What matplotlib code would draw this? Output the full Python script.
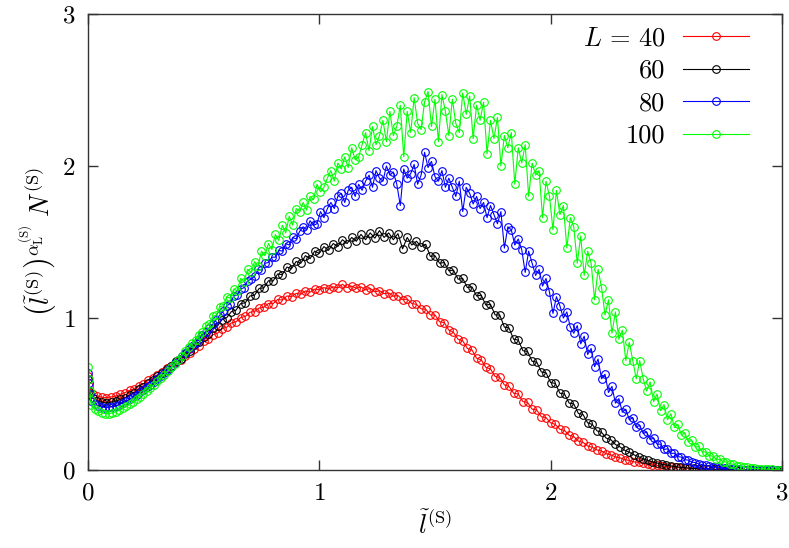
import numpy as np
import matplotlib
matplotlib.use("Agg")
import matplotlib.pyplot as plt

plt.rcParams['font.family'] = 'serif'
plt.rcParams['font.serif'] = ['cmr10']
plt.rcParams['mathtext.fontset'] = 'cm'
plt.rcParams['axes.formatter.use_mathtext'] = True

labels = ["$L\\,=\\,40$", "60", "80", "100"]
colors = ["#ff0000", "#000000", "#0000ff", "#00ff00"]

# --- L = 40 ---
red_x0 = [0.0, 0.005]
red_y0 = [0.62, 0.55]
red_step = 0.02
red_y = [0.50, 0.488, 0.478, 0.476, 0.481, 0.486, 0.498, 0.509, 0.524, 0.536,
         0.555, 0.568, 0.59, 0.603, 0.627, 0.643, 0.668, 0.683, 0.708, 0.725,
         0.753, 0.768, 0.798, 0.815, 0.848, 0.86, 0.89, 0.90, 0.93, 0.94,
         0.968, 0.975, 1.003, 1.01, 1.038, 1.042, 1.066, 1.07, 1.095, 1.094,
         1.122, 1.118, 1.145, 1.14, 1.162, 1.156, 1.178, 1.17, 1.19, 1.185,
         1.20, 1.19, 1.205, 1.198, 1.222, 1.20, 1.21, 1.195, 1.205, 1.185,
         1.195, 1.172, 1.18, 1.16, 1.165, 1.143, 1.148, 1.12, 1.125, 1.095,
         1.09, 1.06, 1.058, 1.02, 1.02, 0.975, 0.97, 0.92, 0.905, 0.86,
         0.85, 0.80, 0.79, 0.735, 0.725, 0.675, 0.665, 0.615, 0.61, 0.56,
         0.55, 0.505, 0.50, 0.45, 0.445, 0.40, 0.395, 0.35, 0.345, 0.31,
         0.30, 0.268, 0.26, 0.228, 0.22, 0.19, 0.182, 0.158, 0.15, 0.132,
         0.125, 0.107, 0.10, 0.086, 0.08, 0.068, 0.063, 0.054, 0.05, 0.043,
         0.039, 0.034, 0.03, 0.026, 0.023, 0.02, 0.017, 0.015, 0.013, 0.011,
         0.0095, 0.008, 0.007, 0.006, 0.005, 0.004, 0.0035, 0.003, 0.0025, 0.002,
         0.002, 0.0015, 0.0015, 0.001, 0.001, 0.001, 0.0005, 0.0005, 0.0, 0.0]

# --- L = 60 ---
black_x0 = [0.0, 0.005]
black_y0 = [0.60, 0.52]
black_step = 0.02
black_y = [0.475, 0.455, 0.446, 0.44, 0.446, 0.451, 0.465, 0.474, 0.492, 0.508,
           0.532, 0.548, 0.573, 0.59, 0.618, 0.635, 0.664, 0.682, 0.714, 0.732,
           0.766, 0.786, 0.822, 0.84, 0.877, 0.895, 0.935, 0.948, 0.99, 1.003,
           1.042, 1.052, 1.095, 1.10, 1.145, 1.15, 1.195, 1.198, 1.245, 1.243,
           1.29, 1.285, 1.335, 1.325, 1.372, 1.36, 1.41, 1.39, 1.44, 1.425,
           1.47, 1.445, 1.49, 1.47, 1.515, 1.49, 1.53, 1.505, 1.55, 1.515,
           1.56, 1.525, 1.575, 1.53, 1.56, 1.515, 1.555, 1.455, 1.53, 1.48,
           1.505, 1.47, 1.485, 1.405, 1.41, 1.36, 1.365, 1.31, 1.315, 1.255,
           1.26, 1.20, 1.205, 1.145, 1.15, 1.085, 1.09, 1.02, 1.02, 0.94,
           0.935, 0.86, 0.855, 0.785, 0.78, 0.715, 0.71, 0.645, 0.64, 0.575,
           0.57, 0.505, 0.50, 0.44, 0.435, 0.372, 0.365, 0.31, 0.30, 0.258,
           0.248, 0.21, 0.20, 0.168, 0.152, 0.13, 0.117, 0.10, 0.088, 0.074,
           0.064, 0.053, 0.046, 0.038, 0.032, 0.027, 0.022, 0.018, 0.015, 0.012,
           0.01, 0.008, 0.0065, 0.005, 0.004, 0.0035, 0.003, 0.0025, 0.002, 0.0015,
           0.0015, 0.001, 0.001, 0.001, 0.0005, 0.0005, 0.0, 0.0, 0.0, 0.0]

# --- L = 80 ---
blue_x0 = [0.0, 0.004, 0.008]
blue_y0 = [0.64, 0.57, 0.50]
blue_step = 0.015
blue_y = [0.455, 0.435, 0.422, 0.415, 0.411, 0.412, 0.416, 0.42, 0.43, 0.442,
          0.453, 0.465, 0.48, 0.495, 0.51, 0.525, 0.543, 0.562, 0.58, 0.60,
          0.618, 0.64, 0.66, 0.68, 0.703, 0.725, 0.748, 0.772, 0.793, 0.815,
          0.838, 0.86, 0.888, 0.91, 0.935, 0.96, 0.99, 1.02, 1.045, 1.08,
          1.095, 1.145, 1.15, 1.19, 1.20, 1.245, 1.255, 1.275, 1.32, 1.315,
          1.36, 1.365, 1.40, 1.40, 1.445, 1.44, 1.49, 1.48, 1.53, 1.52,
          1.57, 1.60, 1.58, 1.64, 1.61, 1.62, 1.70, 1.66, 1.72, 1.76,
          1.72, 1.80, 1.82, 1.76, 1.84, 1.86, 1.80, 1.88, 1.84, 1.90,
          1.94, 1.86, 1.97, 1.92, 1.90, 2.00, 1.94, 1.96, 1.88, 1.74,
          1.98, 1.92, 1.95, 2.01, 1.88, 1.94, 2.09, 1.99, 2.03, 1.93,
          1.90, 1.97, 1.86, 1.92, 1.86, 1.80, 1.90, 1.70, 1.86, 1.82,
          1.75, 1.80, 1.72, 1.76, 1.66, 1.74, 1.68, 1.62, 1.70, 1.46,
          1.60, 1.58, 1.48, 1.52, 1.45, 1.30, 1.44, 1.36, 1.28, 1.32,
          1.21, 1.26, 1.17, 1.03, 1.14, 1.08, 1.00, 1.04, 0.94, 0.90,
          0.95, 0.83, 0.88, 0.76, 0.80, 0.68, 0.73, 0.60, 0.63, 0.51,
          0.55, 0.44, 0.47, 0.38, 0.40, 0.33, 0.345, 0.28, 0.295, 0.24,
          0.25, 0.20, 0.21, 0.17, 0.17, 0.135, 0.14, 0.11, 0.11, 0.088,
          0.085, 0.068, 0.065, 0.052, 0.049, 0.04, 0.036, 0.03, 0.026, 0.021,
          0.018, 0.015, 0.012, 0.01, 0.008, 0.0065, 0.005, 0.004, 0.003, 0.0025,
          0.002, 0.0015, 0.001, 0.001, 0.0005, 0.0005, 0.0, 0.0, 0.0, 0.0]

# --- L = 100 ---
green_x0 = [0.0, 0.004, 0.008, 0.012]
green_y0 = [0.68, 0.60, 0.52, 0.46]
green_step = 0.015
green_y = [0.43, 0.40, 0.385, 0.375, 0.371, 0.371, 0.376, 0.383, 0.393, 0.405,
           0.418, 0.433, 0.448, 0.465, 0.483, 0.50, 0.52, 0.54, 0.56, 0.583,
           0.605, 0.628, 0.652, 0.675, 0.70, 0.727, 0.753, 0.78, 0.806, 0.835,
           0.855, 0.89, 0.905, 0.95, 0.96, 1.01, 1.02, 1.075, 1.08, 1.14,
           1.13, 1.19, 1.18, 1.26, 1.24, 1.32, 1.30, 1.37, 1.34, 1.44,
           1.41, 1.49, 1.45, 1.55, 1.51, 1.61, 1.56, 1.67, 1.61, 1.72,
           1.70, 1.76, 1.71, 1.80, 1.78, 1.88, 1.83, 1.86, 1.92, 1.97,
           1.90, 2.02, 1.98, 2.06, 1.99, 2.12, 2.04, 2.06, 2.14, 2.22,
           2.10, 2.26, 2.14, 2.20, 2.30, 2.16, 2.36, 2.20, 2.26, 2.40,
           2.06, 2.36, 2.22, 2.45, 2.28, 2.24, 2.42, 2.49, 2.26, 2.44,
           2.16, 2.47, 2.36, 2.20, 2.44, 2.28, 2.22, 2.48, 2.34, 2.46,
           2.18, 2.40, 2.30, 2.42, 2.08, 2.30, 2.18, 2.32, 2.00, 2.20,
           2.12, 2.22, 1.88, 2.12, 2.02, 2.14, 1.80, 2.02, 1.94, 1.97,
           1.66, 1.90, 1.80, 1.58, 1.84, 1.68, 1.74, 1.46, 1.66, 1.60,
           1.36, 1.54, 1.28, 1.44, 1.36, 1.12, 1.32, 1.20, 1.02, 1.12,
           0.90, 1.04, 0.86, 0.92, 0.72, 0.84, 0.72, 0.60, 0.72, 0.60,
           0.52, 0.58, 0.45, 0.50, 0.39, 0.43, 0.33, 0.37, 0.28, 0.30,
           0.23, 0.245, 0.185, 0.195, 0.15, 0.155, 0.118, 0.12, 0.094, 0.092,
           0.072, 0.07, 0.055, 0.052, 0.04, 0.038, 0.029, 0.026, 0.02, 0.018,
           0.014, 0.011, 0.009, 0.007, 0.006, 0.005, 0.004, 0.003, 0.002, 0.002]

series = [
    (red_x0, red_y0, red_step, red_y),
    (black_x0, black_y0, black_step, black_y),
    (blue_x0, blue_y0, blue_step, blue_y),
    (green_x0, green_y0, green_step, green_y),
]

fig = plt.figure(figsize=(7.89, 5.48), dpi=100)
ax = fig.add_axes([0.1115, 0.1423, 0.8796, 0.8322])

for (x0, y0, step, ys), lab, col in zip(series, labels, colors):
    xs = np.concatenate([x0, step * (1 + np.arange(len(ys)))])
    yy = np.concatenate([y0, ys])
    ax.plot(xs, yy, color=col, lw=0.8, marker='o', ms=5.5, mfc='none',
            mec=col, mew=0.8, label=lab)

ax.set_xlim(0, 3)
ax.set_ylim(0, 3)
ax.set_xticks([0, 1, 2, 3])
ax.set_yticks([0, 1, 2, 3])
ax.tick_params(direction='in', length=7, width=1, top=True, right=True,
               labelsize=18, pad=9, colors='#333333', labelcolor='black')
for s in ax.spines.values():
    s.set_linewidth(1.0)
    s.set_color('#333333')

ax.set_xlabel(r"$\tilde{l}^{(\mathrm{S})}$", fontsize=19, labelpad=4)
ax.set_ylabel(r"$\left(\tilde{l}^{(\mathrm{S})}_{\,}\right)^{\alpha_{\mathrm{L}}^{(\mathrm{S})}}\;N^{(\mathrm{S})}$",
              fontsize=19, labelpad=2)

leg = ax.legend(loc='upper right', bbox_to_anchor=(0.986, 1.024), frameon=False,
                markerfirst=False, handlelength=2.5, handletextpad=0.65,
                labelspacing=0.33, fontsize=19, numpoints=1)

fig.savefig("out.png", dpi=100)
